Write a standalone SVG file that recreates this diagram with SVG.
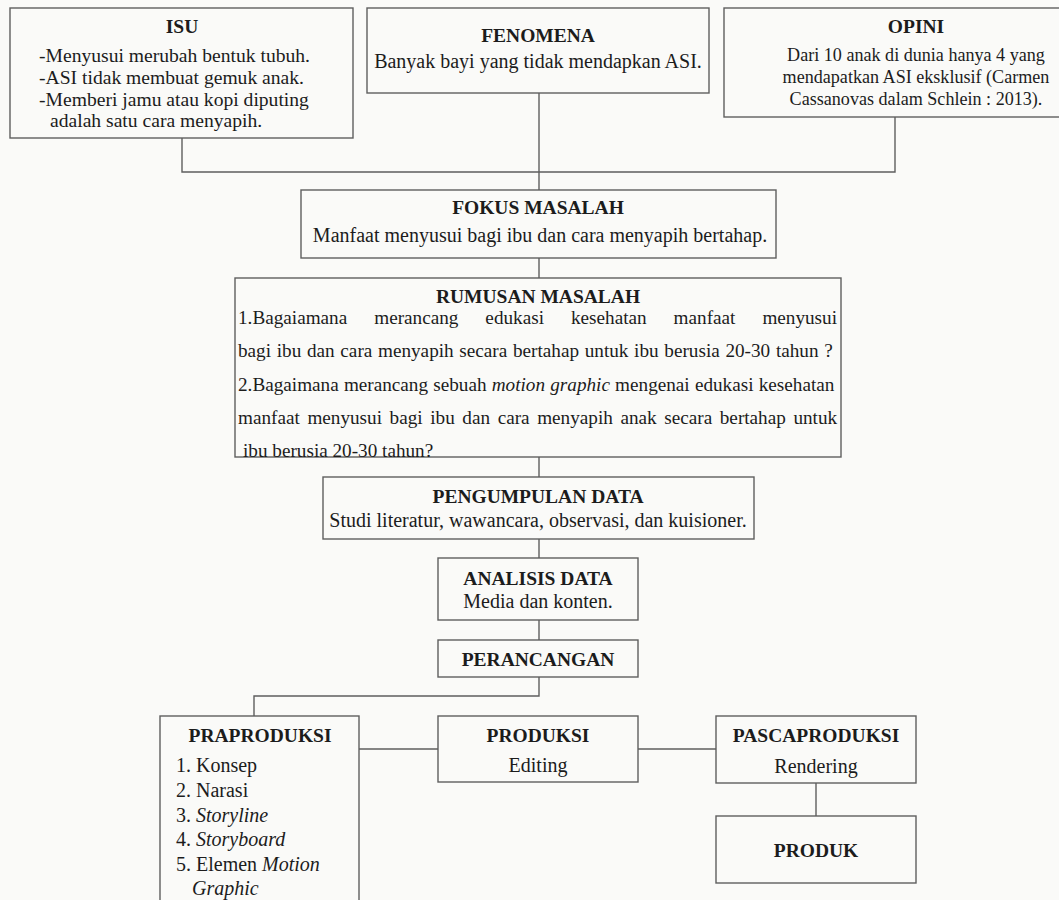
<svg xmlns="http://www.w3.org/2000/svg" width="1059" height="900" viewBox="0 0 1059 900">
<style>
.bx{fill:#fafaf8;stroke:#5e5e5e;stroke-width:1.4}
.ln{fill:none;stroke:#5e5e5e;stroke-width:1.4}
text{font-family:"Liberation Serif","Times New Roman",serif;fill:#1c1c1c;font-size:20px}
.t{font-weight:bold;font-size:19.5px;text-anchor:middle}
.c{text-anchor:middle}
.i{font-style:italic}
.r{font-size:19.2px}
.s{font-size:19.6px}
.o{font-size:18.1px;text-anchor:middle}
</style>
<rect width="1059" height="900" fill="#fafaf8"/>
<g id="connectors">
<path class="ln" d="M182 138V172H895V117"/>
<path class="ln" d="M539 93V190"/>
<path class="ln" d="M539 258V278"/>
<path class="ln" d="M539 457V477"/>
<path class="ln" d="M539 539V558"/>
<path class="ln" d="M539 620V640"/>
<path class="ln" d="M539 677V696H254V716"/>
<path class="ln" d="M359 749H438"/>
<path class="ln" d="M638 749H716"/>
<path class="ln" d="M816 783V816"/>
</g>
<g id="isu">
<rect class="bx" x="10" y="8" width="343" height="130"/>
<text class="t" x="182" y="33">ISU</text>
<text class="s" x="39" y="62">-Menyusui merubah bentuk tubuh.</text>
<text class="s" x="39" y="84">-ASI tidak membuat gemuk anak.</text>
<text class="s" x="39" y="106">-Memberi jamu atau kopi diputing</text>
<text class="s" x="50" y="127">adalah satu cara menyapih.</text>
</g>
<g id="fenomena">
<rect class="bx" x="367" y="8" width="342" height="85"/>
<text class="t" x="538" y="42">FENOMENA</text>
<text class="c" x="538" y="68" font-size="19.4">Banyak bayi yang tidak mendapkan ASI.</text>
</g>
<g id="opini">
<rect class="bx" x="724" y="8" width="345" height="109"/>
<text class="t" x="916" y="33">OPINI</text>
<text class="o" x="916" y="61">Dari 10 anak di dunia hanya 4 yang</text>
<text class="o" x="916" y="83">mendapatkan ASI eksklusif (Carmen</text>
<text class="o" x="916" y="105">Cassanovas dalam Schlein : 2013).</text>
</g>
<g id="fokus">
<rect class="bx" x="301" y="190" width="475" height="68"/>
<text class="t" x="538" y="214">FOKUS MASALAH</text>
<text class="c" x="540" y="242">Manfaat menyusui bagi ibu dan cara menyapih bertahap.</text>
</g>
<g id="rumusan">
<rect class="bx" x="235" y="278" width="606" height="179"/>
<text class="t" x="538" y="303">RUMUSAN MASALAH</text>
<text class="r" x="238" y="324" word-spacing="22.2">1.Bagaiamana merancang edukasi kesehatan manfaat menyusui</text>
<text class="r" x="238" y="357" word-spacing="0.9">bagi ibu dan cara menyapih secara bertahap untuk ibu berusia 20-30 tahun ?</text>
<text class="r" x="238" y="391" word-spacing="0.4">2.Bagaimana merancang sebuah <tspan class="i">motion graphic</tspan> mengenai edukasi kesehatan</text>
<text class="r" x="238" y="424" word-spacing="2.8">manfaat menyusui bagi ibu dan cara menyapih anak secara bertahap untuk</text>
<text class="r" x="243" y="457">ibu berusia 20-30 tahun?</text>
</g>
<g id="pengumpulan">
<rect class="bx" x="323" y="477" width="431" height="62"/>
<text class="t" x="538" y="503">PENGUMPULAN DATA</text>
<text class="c" x="538" y="527" font-size="20.2">Studi literatur, wawancara, observasi, dan kuisioner.</text>
</g>
<g id="analisis">
<rect class="bx" x="438" y="558" width="200" height="62"/>
<text class="t" x="538" y="585">ANALISIS DATA</text>
<text class="c" x="538" y="608">Media dan konten.</text>
</g>
<g id="perancangan">
<rect class="bx" x="438" y="640" width="200" height="37"/>
<text class="t" x="538" y="666">PERANCANGAN</text>
</g>
<g id="praproduksi">
<rect class="bx" x="160" y="716" width="199" height="200"/>
<text class="t" x="260" y="742">PRAPRODUKSI</text>
<text x="176" y="772" font-size="22">1. Konsep</text>
<text x="176" y="797">2. Narasi</text>
<text x="176" y="822">3. <tspan class="i">Storyline</tspan></text>
<text x="176" y="846">4. <tspan class="i">Storyboard</tspan></text>
<text x="176" y="871">5. Elemen <tspan class="i">Motion</tspan></text>
<text x="192" y="895" class="i">Graphic</text>
</g>
<g id="produksi">
<rect class="bx" x="438" y="716" width="200" height="66"/>
<text class="t" x="538" y="742">PRODUKSI</text>
<text class="c" x="538" y="772" font-size="21.7">Editing</text>
</g>
<g id="pascaproduksi">
<rect class="bx" x="716" y="716" width="200" height="67"/>
<text class="t" x="816" y="742">PASCAPRODUKSI</text>
<text class="c" x="816" y="773" font-size="22.5">Rendering</text>
</g>
<g id="produk">
<rect class="bx" x="716" y="816" width="200" height="67"/>
<text class="t" x="816" y="857">PRODUK</text>
</g>
</svg>
